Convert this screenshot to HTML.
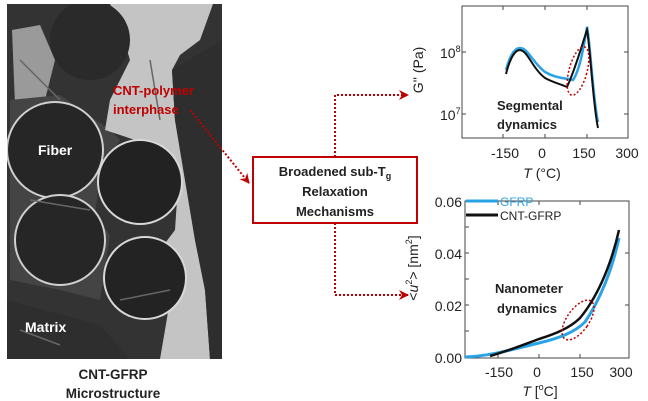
<!DOCTYPE html>
<html><head><meta charset="utf-8"><style>
html,body{margin:0;padding:0;background:#fff;}
svg{display:block;font-family:"Liberation Sans",sans-serif;}
</style></head><body>
<svg width="648" height="401" viewBox="0 0 648 401" xmlns="http://www.w3.org/2000/svg">
<defs>
<marker id="ah" markerWidth="10" markerHeight="10" refX="9" refY="5" orient="auto" markerUnits="userSpaceOnUse"><path d="M0,0 L10,5 L0,10 L3,5 Z" fill="#c00000"/></marker>
<clipPath id="img"><rect x="7" y="4" width="215" height="355"/></clipPath>
</defs>
<g clip-path="url(#img)">
<rect x="7" y="4" width="215" height="355" fill="#333"/>
<path d="M12,30 L40,25 L55,60 L45,100 L15,105 Z" fill="#9a9a9a"/>
<path d="M10,100 L60,95 L110,130 L120,140 L100,175 L95,215 L110,235 L100,300 L60,290 L10,280 Z" fill="#444"/>
<path d="M110,4 L213,4 L200,40 L180,55 L172,70 L175,120 L185,180 L195,240 L205,290 L210,359 L160,359 L165,330 L170,300 L165,280 L160,250 L175,230 L178,185 L165,150 L135,140 L105,130 L110,100 L130,60 L118,20 Z" fill="#c4c4c4"/>
<circle cx="90" cy="40" r="40" fill="#2a2a2a"/>
<circle cx="55" cy="150" r="48" fill="#262626" stroke="#d0d0d0" stroke-width="2"/>
<circle cx="140" cy="182" r="42" fill="#222" stroke="#d8d8d8" stroke-width="2"/>
<circle cx="60" cy="240" r="45" fill="#262626" stroke="#d0d0d0" stroke-width="2"/>
<circle cx="145" cy="278" r="41" fill="#232323" stroke="#d8d8d8" stroke-width="2"/>
<path d="M172,70 L222,40 L222,359 L210,359 L205,290 L195,240 L185,180 L175,120 Z" fill="#2e2e2e"/>
<path d="M7,300 L100,325 L130,359 L7,359 Z" fill="#2e2e2e"/>
<path d="M20,60 L60,100 M30,200 L90,210 M120,300 L170,290 M150,60 L160,120 M20,330 L60,345" stroke="#666" stroke-width="1.5"/>
</g>
<text x="113" y="95" font-size="13" font-weight="bold" fill="#c00000">CNT-polymer</text>
<text x="113" y="114" font-size="13" font-weight="bold" fill="#c00000">interphase</text>
<text x="38" y="155" font-size="14" font-weight="bold" fill="#fff">Fiber</text>
<text x="25" y="332" font-size="14" font-weight="bold" fill="#fff">Matrix</text>
<text x="113" y="379" font-size="13.5" font-weight="bold" fill="#222" text-anchor="middle">CNT-GFRP</text>
<text x="113" y="398" font-size="13.5" font-weight="bold" fill="#222" text-anchor="middle">Microstructure</text>
<path d="M190,110 L249,183" stroke="#c00000" stroke-width="2" stroke-dasharray="2,2" fill="none" marker-end="url(#ah)"/>
<path d="M335,157 L335,95 L408,95" stroke="#c00000" stroke-width="2" stroke-dasharray="2,2" fill="none" marker-end="url(#ah)"/>
<path d="M335,223 L335,295 L408,295" stroke="#c00000" stroke-width="2" stroke-dasharray="2,2" fill="none" marker-end="url(#ah)"/>
<rect x="253" y="157" width="164" height="66" fill="#fff" stroke="#c00000" stroke-width="2"/>
<text x="335" y="176" font-size="13" font-weight="bold" fill="#222" text-anchor="middle">Broadened sub-T<tspan font-size="9" dy="3">g</tspan></text>
<text x="335" y="196" font-size="13" font-weight="bold" fill="#222" text-anchor="middle">Relaxation</text>
<text x="335" y="216" font-size="13" font-weight="bold" fill="#222" text-anchor="middle">Mechanisms</text>
<rect x="462" y="6" width="166" height="132" fill="none" stroke="#444" stroke-width="1"/>
<g stroke="#444" stroke-width="1">
<line x1="503" y1="138" x2="503" y2="134"/><line x1="545" y1="138" x2="545" y2="134"/><line x1="587" y1="138" x2="587" y2="134"/>
<line x1="503" y1="6" x2="503" y2="10"/><line x1="545" y1="6" x2="545" y2="10"/><line x1="587" y1="6" x2="587" y2="10"/>
<line x1="462" y1="52" x2="466" y2="52"/><line x1="462" y1="114" x2="466" y2="114"/>
<line x1="628" y1="52" x2="624" y2="52"/><line x1="628" y1="114" x2="624" y2="114"/>
</g>
<path d="M506,70 C510,55 515,48 520,48 C528,48 532,62 545,72 C555,78 565,78 573,80 C580,70 584,45 587,27 C590,40 593,100 598,122" stroke="#29a3e6" stroke-width="2.5" fill="none"/>
<path d="M506,74 C510,58 515,50 520,50 C528,51 532,68 545,78 C552,82 560,84 567,87 C575,70 582,45 587,30 C590,45 593,105 598,128" stroke="#111" stroke-width="2" fill="none"/>
<ellipse cx="578" cy="71" rx="9" ry="25" transform="rotate(15 578 71)" fill="none" stroke="#c00000" stroke-width="1.5" stroke-dasharray="2,2"/>
<text x="440" y="58" font-size="14" fill="#222">10<tspan font-size="9" dy="-6">8</tspan></text>
<text x="440" y="120" font-size="14" fill="#222">10<tspan font-size="9" dy="-6">7</tspan></text>
<text x="497" y="110" font-size="13" font-weight="bold" fill="#222">Segmental</text>
<text x="497" y="129" font-size="13" font-weight="bold" fill="#222">dynamics</text>
<text x="505" y="158" font-size="14" fill="#222" text-anchor="middle">-150</text>
<text x="542" y="158" font-size="14" fill="#222" text-anchor="middle">0</text>
<text x="584" y="158" font-size="14" fill="#222" text-anchor="middle">150</text>
<text x="627" y="158" font-size="14" fill="#222" text-anchor="middle">300</text>
<text x="542" y="178" font-size="14" fill="#222" text-anchor="middle"><tspan font-style="italic">T</tspan> (°C)</text>
<text transform="translate(423,70) rotate(-90)" font-size="14" fill="#222" text-anchor="middle">G'' (Pa)</text>
<rect x="465" y="201" width="164" height="157" fill="none" stroke="#444" stroke-width="1"/>
<g stroke="#444" stroke-width="1">
<line x1="498" y1="358" x2="498" y2="354"/><line x1="539" y1="358" x2="539" y2="354"/><line x1="580" y1="358" x2="580" y2="354"/>
<line x1="498" y1="201" x2="498" y2="205"/><line x1="539" y1="201" x2="539" y2="205"/><line x1="580" y1="201" x2="580" y2="205"/>
<line x1="465" y1="227" x2="469" y2="227"/><line x1="465" y1="253" x2="469" y2="253"/><line x1="465" y1="279" x2="469" y2="279"/><line x1="465" y1="305" x2="469" y2="305"/><line x1="465" y1="331" x2="469" y2="331"/>
<line x1="629" y1="253" x2="625" y2="253"/><line x1="629" y1="305" x2="625" y2="305"/>
</g>
<path d="M465,357 C490,356 510,350 539,343 C560,338 575,332 585,322 C600,300 612,270 619,238" stroke="#29a3e6" stroke-width="3" fill="none"/>
<path d="M490,356 C505,352 520,346 539,339 C555,334 570,328 580,318 C595,300 610,270 619,230" stroke="#111" stroke-width="2.5" fill="none"/>
<line x1="466" y1="201" x2="498" y2="201" stroke="#29a3e6" stroke-width="3"/>
<line x1="466" y1="215" x2="498" y2="215" stroke="#111" stroke-width="3"/>
<text x="500" y="206" font-size="12" fill="#29a3e6">GFRP</text>
<text x="500" y="220" font-size="12" fill="#222">CNT-GFRP</text>
<ellipse cx="578" cy="320" rx="11" ry="23" transform="rotate(35 578 320)" fill="none" stroke="#c00000" stroke-width="1.5" stroke-dasharray="2,2"/>
<text x="495" y="293" font-size="13" font-weight="bold" fill="#222">Nanometer</text>
<text x="497" y="313" font-size="13" font-weight="bold" fill="#222">dynamics</text>
<text x="462" y="207" font-size="14" fill="#222" text-anchor="end">0.06</text>
<text x="462" y="259" font-size="14" fill="#222" text-anchor="end">0.04</text>
<text x="462" y="311" font-size="14" fill="#222" text-anchor="end">0.02</text>
<text x="462" y="363" font-size="14" fill="#222" text-anchor="end">0.00</text>
<text x="499" y="377" font-size="14" fill="#222" text-anchor="middle">-150</text>
<text x="537" y="377" font-size="14" fill="#222" text-anchor="middle">0</text>
<text x="582" y="377" font-size="14" fill="#222" text-anchor="middle">150</text>
<text x="621" y="377" font-size="14" fill="#222" text-anchor="middle">300</text>
<text x="540" y="396" font-size="14" fill="#222" text-anchor="middle"><tspan font-style="italic">T</tspan> [<tspan font-size="9" dy="-6">o</tspan><tspan dy="6">C]</tspan></text>
<text transform="translate(418,268) rotate(-90)" font-size="14" fill="#222" text-anchor="middle">&lt;<tspan font-style="italic">u</tspan><tspan font-size="9" dy="-6">2</tspan><tspan dy="6">&gt; [nm</tspan><tspan font-size="9" dy="-6">2</tspan><tspan dy="6">]</tspan></text>
</svg>
</body></html>
